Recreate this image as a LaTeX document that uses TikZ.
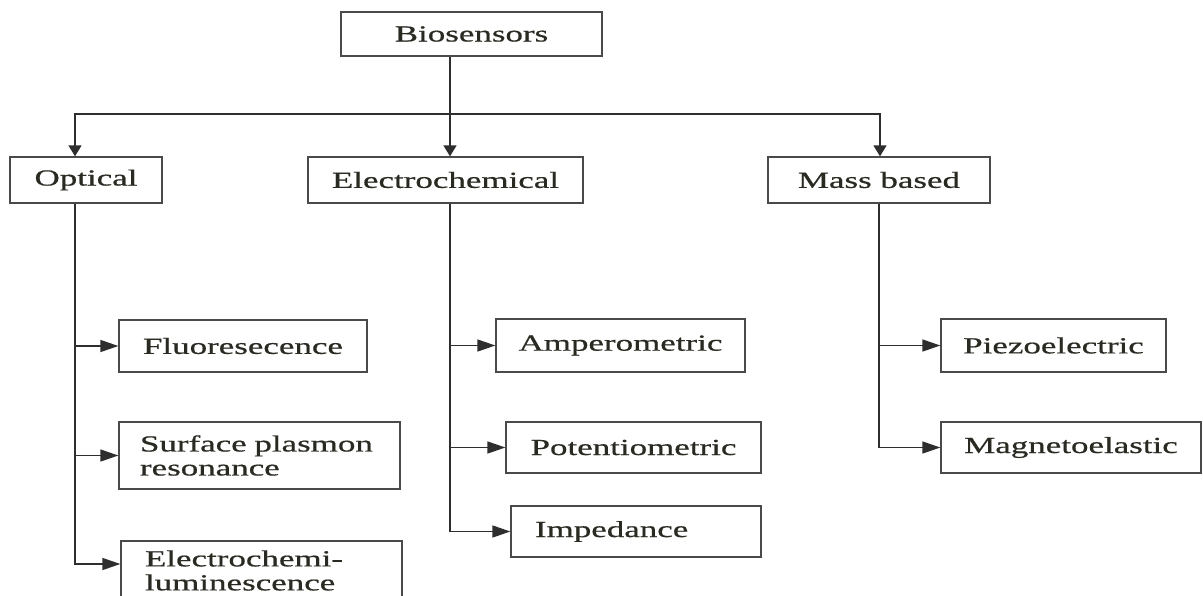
\documentclass[tikz,border=0pt]{standalone}
\usepackage{fontspec}
\setmainfont{Liberation Serif}[FakeStretch=1.52,FakeBold=0.6]
\usetikzlibrary{arrows.meta}
\definecolor{txt}{HTML}{2A2A22}
\definecolor{edge}{HTML}{4A4A4A}
\definecolor{wire}{HTML}{2E2E2E}
\tikzset{
  box/.style={draw=edge, line width=1.3pt, fill=white, inner sep=0pt,
    text=txt, font=\fontsize{23}{24}\selectfont},
  leftbox/.style={box, align=left},
  wireline/.style={draw=wire, line width=1.5pt},
  downarr/.style={wireline, -{Triangle[length=11pt,width=13pt]}},
  sidearr/.style={wireline, -{Triangle[length=18pt,width=12pt]}},
  bothdown/.style={wireline, {Triangle[length=11pt,width=13pt]}-{Triangle[length=11pt,width=13pt]}}
}
\begin{document}
\begin{tikzpicture}[x=1pt,y=-1pt]
\clip (0,0) rectangle (1203,595);
\useasboundingbox (0,0) rectangle (1203,595);
% top level
\node[box, minimum width=261pt, minimum height=44pt] (bio) at (471.5,34) {Biosensors};
\node[box, minimum width=152pt, minimum height=46pt] (opt) at (86,180) {Optical};
\node[box, minimum width=275pt, minimum height=46pt] (ele) at (445.5,180) {Electrochemical};
\node[box, minimum width=222pt, minimum height=46pt] (mas) at (879,180) {Mass based};
% optical children
\node[box, minimum width=248pt, minimum height=52pt] (flu) at (243,346) {Fluoresecence};
\node[leftbox, text width=239pt, inner xsep=21pt, minimum height=67pt] (sur) at (259.5,455.5) {Surface plasmon\\resonance};
\node[leftbox, text width=233pt, inner xsep=24pt, minimum height=59pt] (ecl) at (261.5,570.5) {Electrochemi-\\luminescence};
% electrochemical children
\node[box, minimum width=249pt, minimum height=53pt] (amp) at (620.5,345.5) {Amperometric};
\node[box, minimum width=255pt, minimum height=51pt] (pot) at (633.5,447.5) {Potentiometric};
\node[leftbox, text width=202pt, inner xsep=24pt, minimum height=51pt] (imp) at (636,531.5) {Impedance};
% mass based children
\node[box, minimum width=225pt, minimum height=53pt] (pie) at (1053.5,345.5) {Piezoelectric};
\node[box, minimum width=260pt, minimum height=51pt] (mag) at (1071,447.5) {Magnetoelastic};
% junction coordinates
\coordinate (hub) at (450,114);
\coordinate (ho) at (75,114);
\coordinate (hm) at (880,114);
\coordinate (ot) at (75,0);
\coordinate (et) at (450,0);
\coordinate (mt) at (879,0);
% top connectors
\draw[downarr] (bio.south -| hub) -- (ele.north -| hub);
\draw[bothdown] (opt.north -| ho) -- (ho) -- (hm) -- (mas.north -| hm);
% optical branches
\draw[sidearr] (opt.south -| ot) |- (flu.west);
\draw[sidearr] (opt.south -| ot) |- (sur.west);
\draw[sidearr] (opt.south -| ot) |- ([yshift=6.5pt]ecl.west);
% electrochemical branches
\draw[sidearr] (ele.south -| et) |- (amp.west);
\draw[sidearr] (ele.south -| et) |- (pot.west);
\draw[sidearr] (ele.south -| et) |- (imp.west);
% mass based branches
\draw[sidearr] (mas.south -| mt) |- (pie.west);
\draw[sidearr] (mas.south -| mt) |- (mag.west);
\end{tikzpicture}
\end{document}
